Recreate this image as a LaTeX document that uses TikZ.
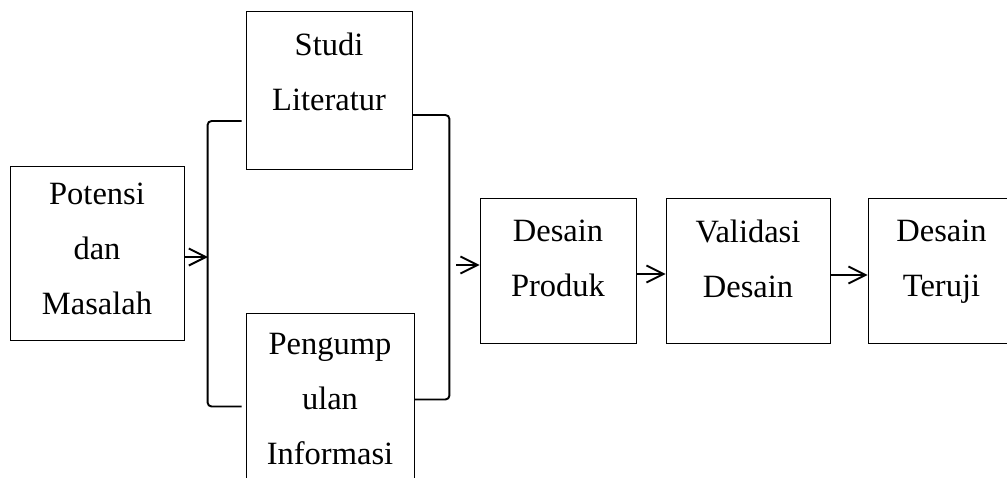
\documentclass[tikz,border=0pt]{standalone}
\usepackage{fontspec}
\setmainfont{Liberation Serif}
\usetikzlibrary{arrows.meta,positioning,calc}
\tikzset{
	kasten/.style={draw,line width=0.5pt,inner sep=0pt},
	beschr/.style={inner sep=0pt,align=center,font=\fontsize{18.5}{31.3}\selectfont},
	klammer/.style={line width=1.1pt,rounded corners=0.08cm},
	pfeil/.style={line width=1.1pt,-{Straight Barb[length=3.4mm,width=3.4mm]}},
}
\begin{document}
\begin{tikzpicture}[x=0.02cm,y=-0.02cm]
	\useasboundingbox (0,0) rectangle (1007,477);
	\clip (0,0) rectangle (1007,477);
	% Kaesten
	\node[kasten,minimum width=3.48cm,minimum height=3.48cm] (potensi) at (97,253) {};
	\node[kasten,minimum width=3.32cm,minimum height=3.16cm] (studi) at (329,90) {};
	\node[kasten,minimum width=3.36cm,minimum height=3.74cm] (pengumpulan) at (330,406.5) {};
	\node[kasten,minimum width=3.12cm,minimum height=2.9cm] (produk) at (558,270.5) {};
	\node[kasten,minimum width=3.28cm,minimum height=2.9cm] (validasi) at (748,270.5) {};
	\node[kasten,minimum width=2.94cm,minimum height=2.9cm] (teruji) at (941.5,270.5) {};
	% Beschriftungen
	\node[beschr,below=0.34cm of potensi.north] (tpotensi) {Potensi\\dan\\Masalah};
	\node[beschr,below=0.44cm of studi.north] (tstudi) {Studi\\Literatur};
	\node[beschr,below=0.4cm of pengumpulan.north] (tpengumpulan) {Pengump\\ulan\\Informasi};
	\node[beschr,below=0.44cm of produk.north] (tproduk) {Desain\\Produk};
	\node[beschr,below=0.44cm of validasi.north] (tvalidasi) {Validasi\\Desain};
	\node[beschr,below=0.44cm of teruji.north] (tteruji) {Desain\\Teruji};
	% Klammern
	\draw[klammer] ($(studi.west)+(-4,31)$) -| ($(pengumpulan.west)+(-38,0)$) -- ($(pengumpulan.west)+(-4,0)$);
	\draw[klammer] ($(studi.east)+(0,25)$) -| ($(pengumpulan.east)+(35,-7)$) -- ($(pengumpulan.east)+(0,-7)$);
	% Pfeile
	\coordinate (lbar) at (208,257);
	\coordinate (rstart) at (456,265);
	\draw[pfeil] (potensi.east |- lbar) -- (lbar);
	\draw[pfeil] (rstart) -- (rstart -| produk.west);
	\draw[pfeil] ($(produk.east)+(0,3.5)$) -- ($(validasi.west)+(0,3.5)$);
	\draw[pfeil] ($(validasi.east)+(0,4.5)$) -- ($(teruji.west)+(0,4.5)$);
\end{tikzpicture}
\end{document}
